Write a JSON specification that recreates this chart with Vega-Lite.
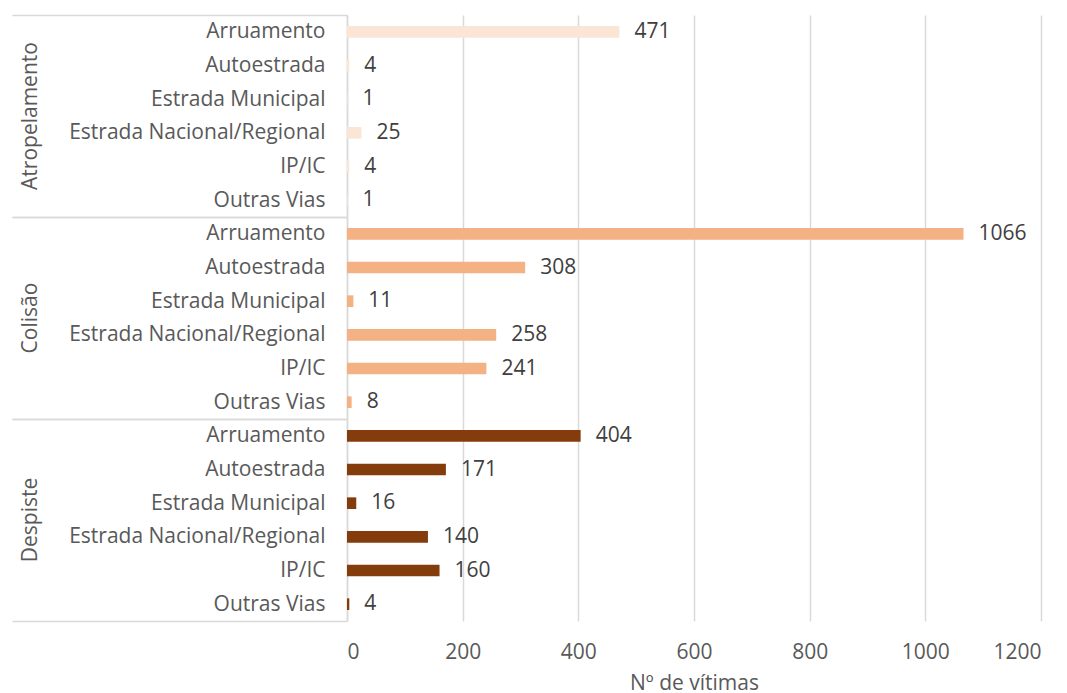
{
  "$schema": "https://vega.github.io/schema/vega-lite/v6.json",
  "background": "white",
  "padding": {"top": 4, "left": 11, "right": 20, "bottom": 0},
  "config": {
    "font": "Open Sans",
    "view": {"stroke": null},
    "facet": {"spacing": 0}
  },
  "data": {
    "values": [
      {"grupo": "Atropelamento", "via": "Arruamento", "vitimas": 471},
      {"grupo": "Atropelamento", "via": "Autoestrada", "vitimas": 4},
      {"grupo": "Atropelamento", "via": "Estrada Municipal", "vitimas": 1},
      {"grupo": "Atropelamento", "via": "Estrada Nacional/Regional", "vitimas": 25},
      {"grupo": "Atropelamento", "via": "IP/IC", "vitimas": 4},
      {"grupo": "Atropelamento", "via": "Outras Vias", "vitimas": 1},
      {"grupo": "Colisão", "via": "Arruamento", "vitimas": 1066},
      {"grupo": "Colisão", "via": "Autoestrada", "vitimas": 308},
      {"grupo": "Colisão", "via": "Estrada Municipal", "vitimas": 11},
      {"grupo": "Colisão", "via": "Estrada Nacional/Regional", "vitimas": 258},
      {"grupo": "Colisão", "via": "IP/IC", "vitimas": 241},
      {"grupo": "Colisão", "via": "Outras Vias", "vitimas": 8},
      {"grupo": "Despiste", "via": "Arruamento", "vitimas": 404},
      {"grupo": "Despiste", "via": "Autoestrada", "vitimas": 171},
      {"grupo": "Despiste", "via": "Estrada Municipal", "vitimas": 16},
      {"grupo": "Despiste", "via": "Estrada Nacional/Regional", "vitimas": 140},
      {"grupo": "Despiste", "via": "IP/IC", "vitimas": 160},
      {"grupo": "Despiste", "via": "Outras Vias", "vitimas": 4}
    ]
  },
  "facet": {
    "row": {
      "field": "grupo",
      "type": "nominal",
      "sort": ["Atropelamento", "Colisão", "Despiste"],
      "header": {
        "title": null,
        "labelAngle": -90,
        "labelOrient": "left",
        "labelAlign": "center",
        "labelFont": "Open Sans",
        "labelFontSize": 21,
        "labelColor": "#595959",
        "labelPadding": -41
      }
    }
  },
  "spec": {
    "width": 694,
    "height": 202,
    "encoding": {
      "y": {
        "field": "via",
        "type": "nominal",
        "sort": ["Arruamento", "Autoestrada", "Estrada Municipal", "Estrada Nacional/Regional", "IP/IC", "Outras Vias"],
        "scale": {"paddingInner": 0, "paddingOuter": 0},
        "axis": {
          "title": null,
          "domainColor": "#d9d9d9",
          "domainWidth": 1.5,
          "tickBand": "extent",
          "tickSize": 335,
          "tickWidth": 1.5,
          "tickColor": "#d9d9d9",
          "tickOpacity": {"condition": {"test": "datum.value === 'Outras Vias' || datum.index < 0", "value": 1}, "value": 0},
          "labelPadding": -313,
          "labelLimit": 0,
          "labelFont": "Open Sans",
          "labelFontSize": 21,
          "labelColor": "#595959"
        }
      },
      "x": {
        "field": "vitimas",
        "type": "quantitative",
        "title": "Nº de vítimas",
        "scale": {"domain": [0, 1200], "nice": false},
        "axis": {
          "values": [0, 200, 400, 600, 800, 1000, 1200],
          "format": "d",
          "domain": false,
          "ticks": false,
          "grid": true,
          "gridColor": "#d9d9d9",
          "gridWidth": 1.5,
          "labelPadding": 20,
          "labelFont": "Open Sans",
          "labelFontSize": 21,
          "labelColor": "#595959",
          "titleFont": "Open Sans",
          "titleFontSize": 21,
          "titleFontWeight": "normal",
          "titleColor": "#595959",
          "titlePadding": 10
        }
      }
    },
    "layer": [
      {
        "mark": {"type": "bar", "height": {"band": 0.345}},
        "encoding": {
          "color": {
            "field": "grupo",
            "type": "nominal",
            "scale": {"domain": ["Atropelamento", "Colisão", "Despiste"], "range": ["#fbe5d6", "#f4b183", "#843c0c"]},
            "legend": null
          }
        }
      },
      {
        "mark": {"type": "text", "align": "left", "baseline": "middle", "dx": 15, "font": "Open Sans", "fontSize": 21, "color": "#404040"},
        "encoding": {
          "text": {"field": "vitimas", "type": "quantitative", "format": "d"}
        }
      }
    ]
  }
}
